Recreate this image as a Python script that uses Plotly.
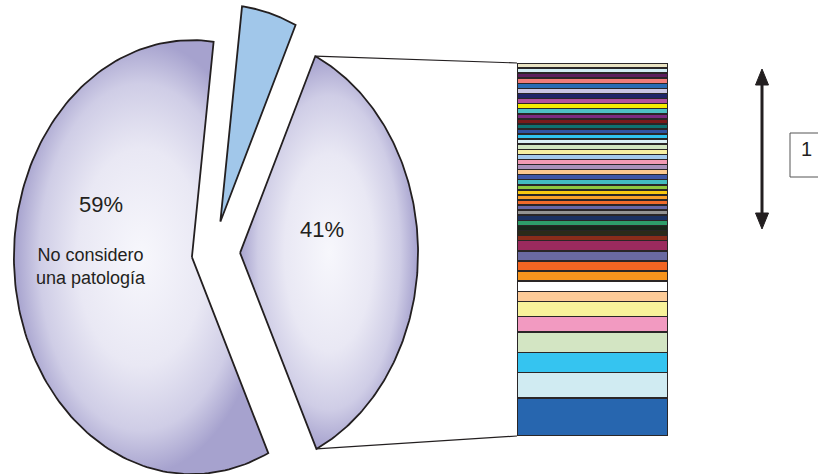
import numpy as np
import plotly.graph_objects as go

# ---------------- data ----------------
# Pie slices, listed clockwise starting at the 25 degree position
slice_names = ["Considero una patología", "No considero una patología", "Otra respuesta"]
slice_values = [36, 59, 5]
slice_texts = ["41%", "59%", ""]
slice_subtexts = ["", "No considero<br>una patología", ""]

# Breakdown bar (bottom -> top)
bar_values = [15, 10, 8, 8, 6, 6, 4, 4, 4, 4, 4, 4,
              2, 2, 2, 2, 2, 2, 2, 2, 2, 2, 2, 2, 2, 2, 2, 2, 2, 2, 2, 2, 2, 2,
              2, 2, 2, 2, 2, 2, 2, 2, 2, 2, 2, 2, 2]
bar_colors = ["#2766AF", "#D0EBF2", "#35C4F0", "#D3E5C3", "#F29AC1", "#F8F29A",
              "#FDCB98", "#FFFFFF", "#F7941D", "#F26522", "#6A6AA2", "#9B2A5E",
              "#8A2C1A", "#2C2A18", "#18281A", "#2E9E6A", "#1B3162", "#939393",
              "#6868A6", "#F06A2A", "#F8A02A", "#F8C810", "#8DC63F", "#43BBBF",
              "#3F57A6", "#FCC88E", "#A890BA", "#F39AB4", "#A3C9EC", "#F8F0A2",
              "#D2E6C0", "#DDF1F5", "#30C2F0", "#3152A2", "#0F7272", "#7A1A1A",
              "#7B2A80", "#4DC0C4", "#F7EB00", "#B1509F", "#1F2468", "#C9C5E4",
              "#2B6BB3", "#F27C78", "#5B1E5C", "#D1ECF4", "#E9E3C3"]
bar_names = [f"Motivo {i + 1}" for i in range(len(bar_values))]
box_label = "1"

# ---------------- layout / style ----------------
OFF = 0
W, H = 818, 474
CX, CY = 213 - OFF, 253 - OFF   # pie centre (figure px)
RX, RY = 178, 217               # pie radii (px)
start_angle = 25                # degrees, clockwise from 12 o'clock
pulls = [0.152, 0.12, 0.15]
INK = "#231F20"
FONT = "Arial, Liberation Sans, sans-serif"

def P(px, py):
    """reference-image pixel -> paper coordinates"""
    return (px - OFF) / W, 1 - (py - OFF) / H

bar_dom_x = [P(517, 0)[0], P(668, 0)[0]]
bar_dom_y = [P(0, 436)[1], P(0, 63)[1]]

def fx2x(fx):
    return (fx * W - CX) / RX

def fy2y(fy):
    return (CY - (1 - fy) * H) / RY

fig = go.Figure()

grad_cs = [[0, "#F7F7FC"], [0.5, "#E9E8F4"], [0.8, "#CFCDE6"], [1, "#A6A2CE"]]
fills = ["grad", "grad", "#A1C7EA"]

corners = {}
cum = 0.0
total = float(sum(slice_values))
for i, (name, v) in enumerate(zip(slice_names, slice_values)):
    a0 = start_angle + 360 * cum / total
    a1 = a0 + 360 * v / total
    cum += v
    mid = np.radians((a0 + a1) / 2)
    vx, vy = pulls[i] * np.sin(mid), pulls[i] * np.cos(mid)
    t = np.radians(np.linspace(a0, a1, 160))
    xs = np.concatenate([[vx], vx + np.sin(t), [vx]])
    ys = np.concatenate([[vy], vy + np.cos(t), [vy]])
    corners[i] = ((vx + np.sin(t[0]), vy + np.cos(t[0])),
                  (vx + np.sin(t[-1]), vy + np.cos(t[-1])))
    kw = dict(x=xs, y=ys, mode="lines", fill="toself", name=name,
              line=dict(color=INK, width=1.8), showlegend=False,
              hoverinfo="name")
    if fills[i] == "grad":
        kw["fillgradient"] = dict(type="radial", colorscale=grad_cs)
    else:
        kw["fillcolor"] = fills[i]
    fig.add_trace(go.Scatter(**kw))

for name, v, c in zip(bar_names, bar_values, bar_colors):
    fig.add_trace(go.Bar(x=[0], y=[v], name=name, xaxis="x2", yaxis="y2",
                         width=1, marker=dict(color=c, line=dict(color="#2A2627", width=1.5)),
                         showlegend=False))

# connector lines from the 41% slice to the bar
(top_pt, bot_pt) = corners[0]
bx = fx2x(bar_dom_x[0])
by_top = fy2y(bar_dom_y[1])
by_bot = fy2y(bar_dom_y[0])
shapes = [
    dict(type="line", xref="x", yref="y", x0=top_pt[0], y0=top_pt[1], x1=bx, y1=by_top,
         line=dict(color=INK, width=1.2)),
    dict(type="line", xref="x", yref="y", x0=bot_pt[0], y0=bot_pt[1], x1=bx, y1=by_bot,
         line=dict(color=INK, width=1.2)),
]

# double arrow
ax_, t_tip, b_tip = 762, 69, 229
x0, y0 = P(ax_, t_tip + 10)
x1, y1 = P(ax_, b_tip - 10)
shapes.append(dict(type="line", xref="paper", yref="paper", x0=x0, y0=y0, x1=x1, y1=y1,
                   line=dict(color=INK, width=3)))
def tri(tipy, basey):
    a = P(ax_, tipy); b = P(ax_ - 6.5, basey); c = P(ax_ + 6.5, basey)
    return f"M {a[0]},{a[1]} L {b[0]},{b[1]} L {c[0]},{c[1]} Z"
shapes.append(dict(type="path", xref="paper", yref="paper", path=tri(t_tip, t_tip + 16),
                   fillcolor=INK, line=dict(color=INK, width=1)))
shapes.append(dict(type="path", xref="paper", yref="paper", path=tri(b_tip, b_tip - 16),
                   fillcolor=INK, line=dict(color=INK, width=1)))
# box with "1"
bx0, by0 = P(790, 133)
bx1, by1 = P(840, 177)
shapes.append(dict(type="rect", xref="paper", yref="paper", x0=bx0, y0=by1, x1=bx1, y1=by0,
                   line=dict(color="#555555", width=1), fillcolor="rgba(0,0,0,0)"))

annotations = []
def txt(px, py, text, size):
    x, y = P(px, py)
    annotations.append(dict(x=x, y=y, xref="paper", yref="paper", text=text, showarrow=False,
                            xanchor="center", yanchor="middle",
                            font=dict(family=FONT, size=size, color=INK)))

txt(101, 205, slice_texts[1], 22)
txt(91, 266, slice_subtexts[1], 18)
txt(322, 229, slice_texts[0], 22)
txt(806, 149, box_label, 20)

fig.update_layout(
    width=W, height=H, margin=dict(l=0, r=0, t=0, b=0),
    paper_bgcolor="white", plot_bgcolor="white", barmode="stack",
    xaxis=dict(domain=[0, 1], range=[fx2x(0), fx2x(1)], visible=False, fixedrange=True),
    yaxis=dict(domain=[0, 1], range=[fy2y(0), fy2y(1)], visible=False, fixedrange=True),
    xaxis2=dict(domain=bar_dom_x, range=[-0.5, 0.5], visible=False, anchor="y2", fixedrange=True),
    yaxis2=dict(domain=bar_dom_y, range=[0, sum(bar_values)], visible=False, anchor="x2", fixedrange=True),
    shapes=shapes, annotations=annotations, showlegend=False,
)

fig.write_html("out.html", config={"displayModeBar": False},
               post_script="document.body.style.margin='0px';document.body.style.overflow='hidden';")
